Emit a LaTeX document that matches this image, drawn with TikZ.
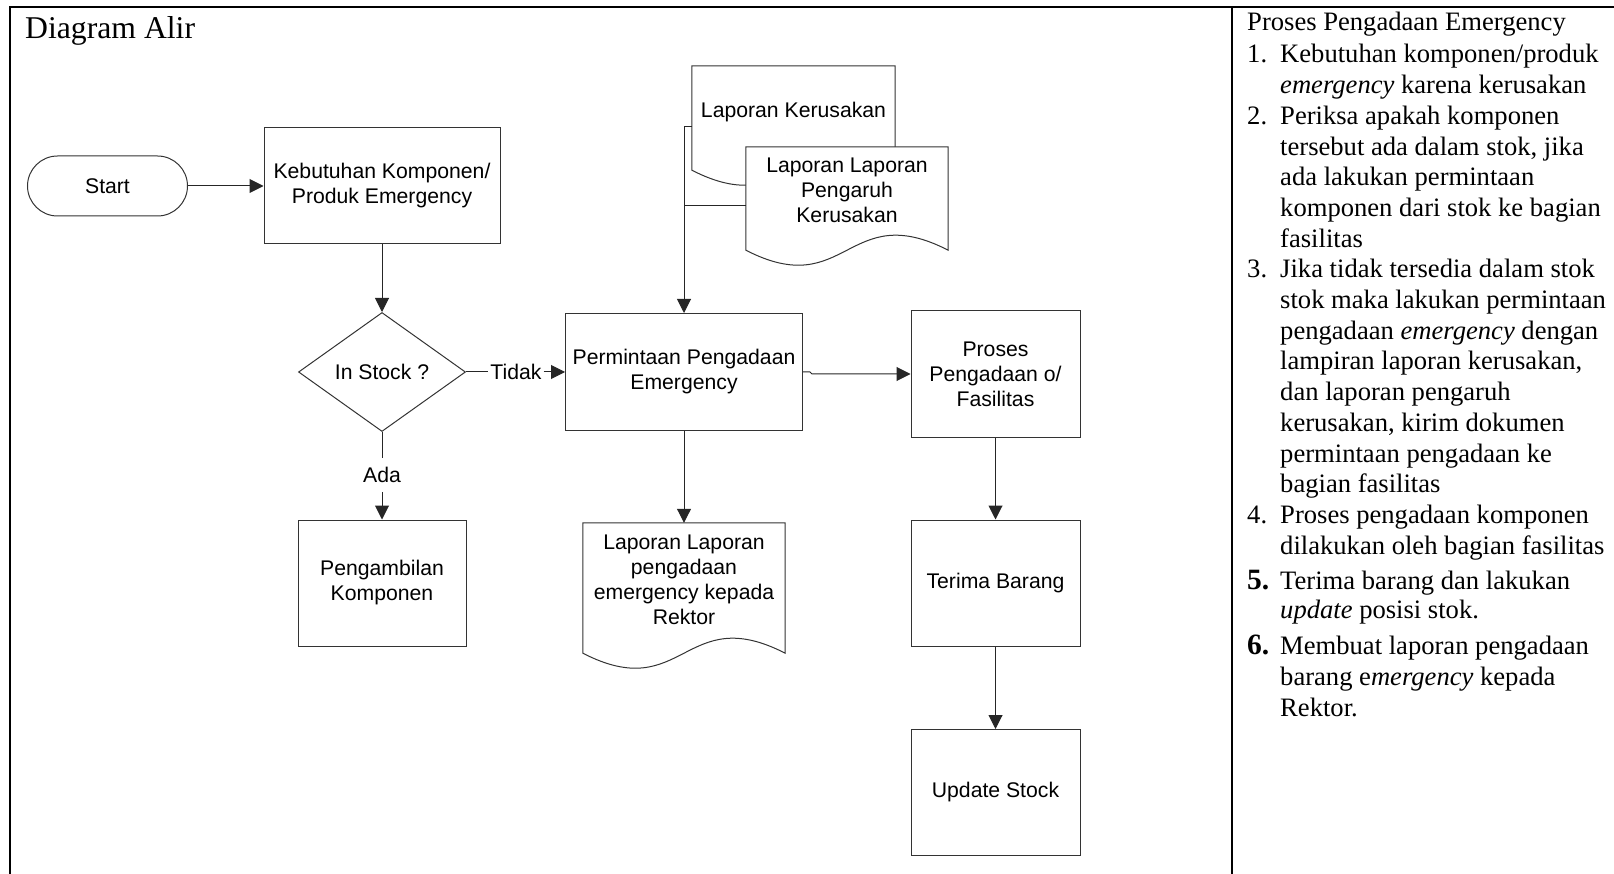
\documentclass[tikz,border=0pt]{standalone}
\usepackage{fontspec}
\setmainfont{Liberation Serif}
\newfontfamily\arialfont{Liberation Sans}
\usetikzlibrary{arrows.meta,shapes.geometric,calc,backgrounds}

% wavy-bottom document symbol drawn around a (text-only) node
\newcommand{\docoutline}[2]{%
  \draw[shapeline, fill=white] (#1.north west) -- (#1.north east)
    -- ($(#1.south east)+(0,#2)$)
    .. controls ($(#1.south)+(0,#2-52)$) and ($(#1.south)+(0,#2+52)$) ..
    ($(#1.south west)+(0,#2)$) -- cycle;}

\tikzset{
  flow/.style={font=\arialfont\fontsize{21.2}{25}\selectfont, align=center, inner sep=0pt, text=black},
  shapeline/.style={draw=black!80, line width=1pt},
  box/.style={flow, shapeline, rectangle},
  decision/.style={flow, shapeline, diamond},
  docnode/.style={flow, rectangle},
  conn/.style={draw=black!85, line width=1pt},
  arr/.style={conn, -{Triangle[length=14pt,width=14pt]}},
  frameline/.style={draw=black, line width=2.7pt},
  ptxt/.style={anchor=base west, inner sep=0pt, font=\fontsize{26.6}{30.7}\selectfont},
  pnum/.style={ptxt},
  pbold/.style={anchor=base west, inner sep=0pt, font=\fontsize{29.5}{30.7}\selectfont\bfseries},
}

\begin{document}
\begin{tikzpicture}[x=1pt, y=-1pt]
\useasboundingbox (0,0) rectangle (1614,874);

% outer frame and panel divider
\draw[frameline] (10,874) -- (10,7) -- (1614,7);
\draw[frameline] (1232,7) -- (1232,874);

% title
\node[anchor=base west, inner sep=0pt, font=\fontsize{31.7}{36}\selectfont] (title) at (25,39) {Diagram Alir};

% ---- flow chart ----
\node[box, minimum width=160pt, minimum height=60pt, rounded corners=30pt] (start) at (107.5,186) {Start};
\node[box, minimum width=236pt, minimum height=116pt] (keb) at (382,186) {Kebutuhan Komponen/\\Produk Emergency};
\node[decision, minimum width=167pt, minimum height=119pt] (dec) at (382,372) {In Stock ?};
\node[flow, inner xsep=2pt, inner ysep=9pt] (ada) at (382,475) {Ada};
\node[box, minimum width=168pt, minimum height=126pt] (ambil) at (382,583) {Pengambilan\\Komponen};
\node[flow, inner xsep=2pt, inner ysep=2pt] (tidak) at (516,372) {Tidak};

\node[box, minimum width=237pt, minimum height=117pt] (perm) at (684,372) {Permintaan Pengadaan\\Emergency};
\node[docnode, minimum width=202pt, minimum height=114pt] (docR) at (684,580) {Laporan Laporan\\pengadaan\\emergency kepada\\Rektor};

\node[docnode, minimum width=203pt, minimum height=92pt] (docA) at (793.5,112) {Laporan Kerusakan};
\node[docnode, minimum width=202pt, minimum height=86pt] (docB) at (847,190) {Laporan Laporan\\Pengaruh\\Kerusakan};

\node[box, minimum width=169pt, minimum height=126pt] (proses) at (995.5,374) {Proses\\Pengadaan o/\\Fasilitas};
\node[box, minimum width=169pt, minimum height=126pt] (terima) at (995.5,583) {Terima Barang};
\node[box, minimum width=169pt, minimum height=126pt] (upd) at (995.5,792.5) {Update Stock};

% document outlines behind their texts
\begin{scope}[on background layer]
  \docoutline{docA}{12}
  \docoutline{docB}{17}
  \docoutline{docR}{16}
\end{scope}

% connectors
\draw[arr] (start.east) -- (keb.west);
\draw[arr] (keb.south) -- (dec.north);
\draw[conn] (dec.south) -- (ada.north);
\draw[arr] (ada.south) -- (ambil.north);
\draw[conn] (dec.east) -- (tidak.west);
\draw[arr] (tidak.east) -- (perm.west);
\draw[arr] (perm.south) -- (docR.north);

\coordinate (jA) at (684,127);
\coordinate (jB) at (684,206);
\draw[conn] (docA.west |- jA) -- (jA);
\draw[conn] (docB.west |- jB) -- (jB);
\draw[arr] (jA) -- (perm.north);

\coordinate (hop) at (810,372);
\draw[arr] (perm.east) -- (hop) -- ++(2,2) -- (proses.west);
\draw[arr] (proses.south) -- (terima.north);
\draw[arr] (terima.south) -- (upd.north);

% ---- description panel ----
\node[ptxt] (hdr) at (1247,31) {Proses Pengadaan Emergency};

\node[pnum] (n1) at (1247,63) {1.};
\node[ptxt] (t1a) at (1280,63) {Kebutuhan komponen/produk};
\node[ptxt] (t1b) at (1280,93.7) {\textit{emergency} karena kerusakan};

\node[pnum] (n2) at (1247,124.4) {2.};
\node[ptxt] (t2a) at (1280,124.4) {Periksa apakah komponen};
\node[ptxt] (t2b) at (1280,155.1) {tersebut ada dalam stok, jika};
\node[ptxt] (t2c) at (1280,185.8) {ada lakukan permintaan};
\node[ptxt] (t2d) at (1280,216.5) {komponen dari stok ke bagian};
\node[ptxt] (t2e) at (1280,247.2) {fasilitas};

\node[pnum] (n3) at (1247,277.9) {3.};
\node[ptxt] (t3a) at (1280,277.9) {Jika tidak tersedia dalam stok};
\node[ptxt] (t3b) at (1280,308.6) {stok maka lakukan permintaan};
\node[ptxt] (t3c) at (1280,339.3) {pengadaan \textit{emergency} dengan};
\node[ptxt] (t3d) at (1280,370) {lampiran laporan kerusakan,};
\node[ptxt] (t3e) at (1280,400.7) {dan laporan pengaruh};
\node[ptxt] (t3f) at (1280,431.4) {kerusakan, kirim dokumen};
\node[ptxt] (t3g) at (1280,462.1) {permintaan pengadaan ke};
\node[ptxt] (t3h) at (1280,492.8) {bagian fasilitas};

\node[pnum] (n4) at (1247,523.5) {4.};
\node[ptxt] (t4a) at (1280,523.5) {Proses pengadaan komponen};
\node[ptxt] (t4b) at (1280,554.2) {dilakukan oleh bagian fasilitas};

\node[pbold] (n5) at (1247,589) {5.};
\node[ptxt] (t5a) at (1280,589) {Terima barang dan lakukan};
\node[ptxt] (t5b) at (1280,618.5) {\textit{update} posisi stok.};

\node[pbold] (n6) at (1247,654) {6.};
\node[ptxt] (t6a) at (1280,654) {Membuat laporan pengadaan};
\node[ptxt] (t6b) at (1280,685.5) {barang e\textit{mergency} kepada};
\node[ptxt] (t6c) at (1280,716.5) {Rektor.};

\end{tikzpicture}
\end{document}
